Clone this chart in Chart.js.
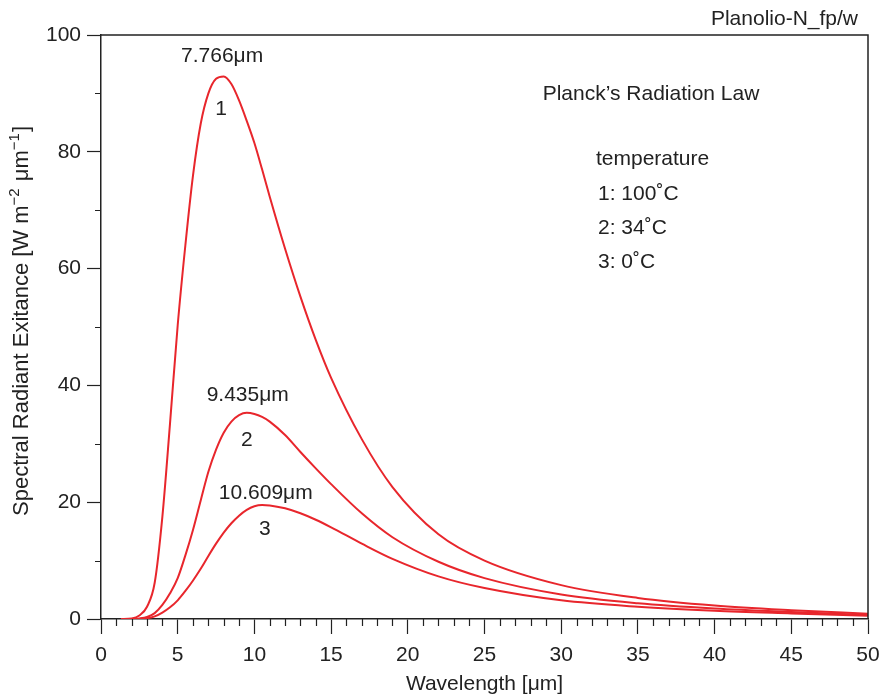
<!DOCTYPE html>
<html><head><meta charset="utf-8">
<script src="https://cdn.jsdelivr.net/npm/chart.js@4/dist/chart.umd.min.js"></script>
<style>html,body{margin:0;padding:0;background:#fff}#wrap{width:885px;height:697px}</style>
</head><body><div id="wrap"><canvas id="c" width="885" height="697"></canvas></div>
<script>
// ---- data ----
const wavelength = [1.3, 2, 2.5, 3, 3.5, 4, 4.5, 5, 5.5, 6, 6.5, 7, 7.5, 8, 8.5, 9, 9.5, 10, 10.5, 11, 12, 13, 14, 15, 17, 19, 22, 25, 30, 35, 40, 45, 50];
const exitance100C = [0, 0.1, 0.6, 2.1, 6.2, 17.5, 33.5, 50.3, 64.0, 76.0, 84.8, 90.0, 92.5, 92.9, 91.6, 88.8, 85.3, 81.5, 77.0, 72.3, 63.4, 55.2, 47.8, 41.3, 30.8, 22.6, 14.5, 10.0, 5.8, 3.6, 2.3, 1.5, 0.9];
const exitance34C  = [0, 0, 0.1, 0.35, 1.0, 2.4, 4.4, 7.0, 10.9, 15.3, 20.3, 25.2, 29.0, 31.9, 33.8, 34.9, 35.3, 35.1, 34.6, 33.8, 31.5, 28.6, 25.8, 23.1, 18.1, 14.0, 9.8, 7.0, 4.2, 2.7, 1.8, 1.2, 0.7];
const exitance0C   = [0, 0, 0, 0.12, 0.45, 1.1, 2.0, 3.2, 4.8, 6.6, 8.6, 10.8, 12.9, 14.8, 16.4, 17.7, 18.7, 19.3, 19.5, 19.45, 18.95, 18.1, 17.0, 15.7, 12.9, 10.3, 7.3, 5.3, 3.2, 2.1, 1.4, 0.95, 0.55];
const peakWavelength = [7.766, 9.435, 10.609];
const peakValue = [93, 35.3, 19.5];
const peakLabel = ['7.766\u03bcm', '9.435\u03bcm', '10.609\u03bcm'];
const curveNumber = ['1', '2', '3'];
const chartTitle = 'Planck\u2019s Radiation Law';
const legendHeading = 'temperature';
const legendLines = ['1: 100\u02daC', '2: 34\u02daC', '3: 0\u02daC'];
const cornerTag = 'Planolio-N_fp/w';
const xTitle = 'Wavelength [\u03bcm]';
// y title pieces: [text, isSuperscript]
const yTitleParts = [['Spectral Radiant Exitance [W m', false], ['\u22122', true], [' \u03bcm', false], ['\u22121', true], [']', false]];

const RED = '#e8262c';
const INK = '#222222';
const FONT = '"Liberation Sans", Arial, Helvetica, sans-serif';

function series(ys) { return wavelength.map((x, i) => ({x: x, y: ys[i]})); }

const decor = {
  id: 'decor',
  afterDraw(chart) {
    const ctx = chart.ctx, a = chart.chartArea;
    const xs = chart.scales.x, ys = chart.scales.y;
    ctx.save();
    // frame
    ctx.strokeStyle = INK; ctx.lineWidth = 1.5;
    ctx.beginPath();
    ctx.moveTo(a.left, a.top); ctx.lineTo(a.right, a.top); ctx.lineTo(a.right, a.bottom);
    ctx.stroke();
    // minor ticks
    ctx.lineWidth = 1.2;
    ctx.beginPath();
    for (let v = 1; v < 50; v++) {
      if (v % 5 === 0) continue;
      const px = Math.round(xs.getPixelForValue(v)) + 0.5;
      ctx.moveTo(px, a.bottom); ctx.lineTo(px, a.bottom + 7);
    }
    for (let v = 10; v < 100; v += 20) {
      const py = Math.round(ys.getPixelForValue(v)) + 0.5;
      ctx.moveTo(a.left, py); ctx.lineTo(a.left - 6, py);
    }
    ctx.stroke();
    // texts
    ctx.fillStyle = INK;
    ctx.font = '21px ' + FONT;
    ctx.textBaseline = 'middle';
    ctx.textAlign = 'center';
    const aboveOff = [20, 18, 12];
    const belowOff = [33, 27, 24];
    for (let i = 0; i < 3; i++) {
      const px = xs.getPixelForValue(peakWavelength[i]);
      const py = ys.getPixelForValue(peakValue[i]);
      ctx.fillText(peakLabel[i], px + 2, py - aboveOff[i]);
      ctx.fillText(curveNumber[i], px + 1, py + belowOff[i]);
    }
    ctx.fillText(chartTitle, 651, 94);
    ctx.textAlign = 'left';
    ctx.fillText(legendHeading, 596, 159);
    for (let i = 0; i < legendLines.length; i++) {
      ctx.fillText(legendLines[i], 598, 194 + i * 34);
    }
    ctx.textAlign = 'right';
    ctx.fillText(cornerTag, 858, 19);
    // y axis title, rotated, with superscripts
    ctx.translate(22, 516);
    ctx.rotate(-Math.PI / 2);
    ctx.textAlign = 'left';
    ctx.textBaseline = 'middle';
    let cx = 0;
    for (const [t, sup] of yTitleParts) {
      ctx.font = (sup ? '15px ' : '22px ') + FONT;
      ctx.fillText(t, cx, sup ? -7 : 0);
      cx += ctx.measureText(t).width + (sup ? 1 : 0);
    }
    ctx.restore();
  }
};

new Chart(document.getElementById('c'), {
  type: 'line',
  data: {
    datasets: [
      {label: '1', data: series(exitance100C)},
      {label: '2', data: series(exitance34C)},
      {label: '3', data: series(exitance0C)}
    ].map(d => Object.assign(d, {borderColor: RED, borderWidth: 2, pointRadius: 0, fill: false, cubicInterpolationMode: 'monotone'}))
  },
  options: {
    responsive: false,
    animation: false,
    devicePixelRatio: 1,
    layout: {padding: {top: 35, right: 17, left: 0, bottom: 0}},
    plugins: {legend: {display: false}, tooltip: {enabled: false}, title: {display: false}},
    scales: {
      x: {
        type: 'linear', min: 0, max: 50,
        afterFit(s) { s.height = 78; s.paddingLeft = 0; s.paddingRight = 0; },
        ticks: {stepSize: 5, autoSkip: false, maxRotation: 0, color: INK, font: {size: 21, family: FONT}, padding: 9},
        grid: {display: true, drawOnChartArea: false, tickLength: 15, tickColor: INK, tickWidth: 1.2},
        border: {display: true, color: INK, width: 1.5},
        title: {display: true, text: xTitle, color: INK, font: {size: 21, family: FONT}, padding: {top: 0, bottom: 0}}
      },
      y: {
        type: 'linear', min: 0, max: 100,
        afterFit(s) { s.width = 101; s.paddingTop = 0; s.paddingBottom = 0; },
        ticks: {stepSize: 20, color: INK, font: {size: 21, family: FONT}, padding: 6},
        grid: {display: true, drawOnChartArea: false, tickLength: 14, tickColor: INK, tickWidth: 1.2},
        border: {display: true, color: INK, width: 1.5},
        title: {display: false}
      }
    }
  },
  plugins: [decor]
});
</script>
</body></html>
